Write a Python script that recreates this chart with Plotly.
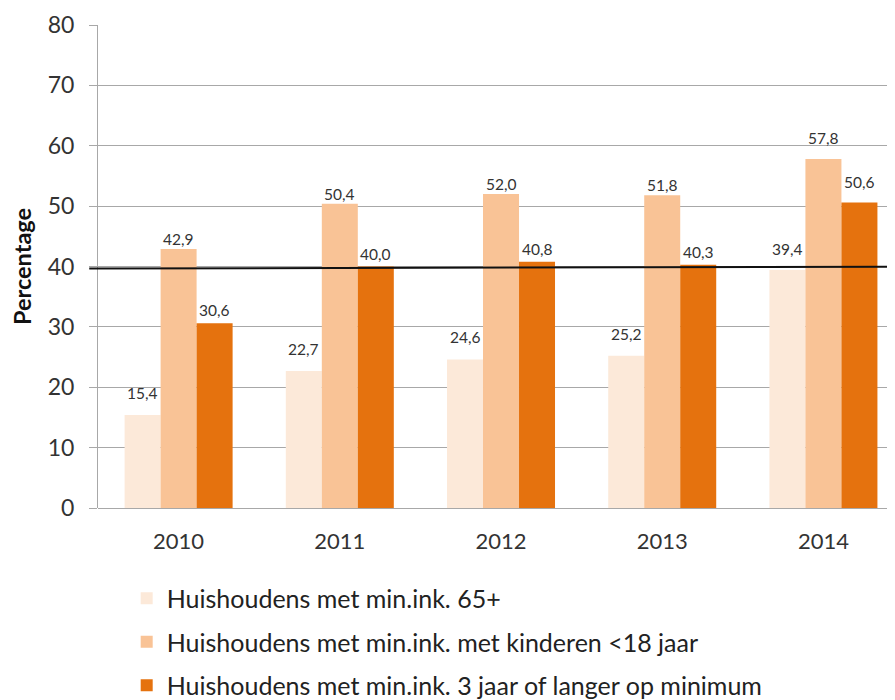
import plotly.graph_objects as go

years = ["2010", "2011", "2012", "2013", "2014"]
series_names = [
    "Huishoudens met min.ink. 65+",
    "Huishoudens met min.ink. met kinderen <18 jaar",
    "Huishoudens met min.ink. 3 jaar of langer op minimum",
]
vals_65plus = [15.4, 22.7, 24.6, 25.2, 39.4]
vals_kinderen = [42.9, 50.4, 52.0, 51.8, 57.8]
vals_3jaar = [30.6, 40.0, 40.8, 40.3, 50.6]
ref_line_start = 39.65
ref_line_end = 39.98

colors = ["#FCE9D9", "#F9C396", "#E5720E"]
series = [vals_65plus, vals_kinderen, vals_3jaar]
FONT = "Lato"

fig = go.Figure()
for i, (name, vals, col) in enumerate(zip(series_names, series, colors)):
    fig.add_trace(go.Bar(
        x=years, y=vals, name=name, marker=dict(color=col, line=dict(width=0)),
        legendgroup=f"g{i}",
    ))

# data labels
bar_w_px = 36
label_offsets = [11, -1, 2]
for i, vals in enumerate(series):
    for j, (yr, v) in enumerate(zip(years, vals)):
        ys = label_offsets[i]
        if yr == "2014":
            ys = 10
        fig.add_annotation(
            x=j, y=v, xref="x", yref="y", text=f"{v:.1f}".replace(".", ","),
            showarrow=False, xshift=(i - 1) * bar_w_px, yshift=ys, yanchor="bottom",
            font=dict(family=FONT, size=15.5, color="#333333"),
        )

fig.add_shape(
    type="line", xref="paper", yref="y", x0=-0.011, x1=1.0,
    y0=ref_line_start, y1=ref_line_end,
    line=dict(color="#111111", width=2), layer="above",
)

fig.update_layout(
    width=887, height=692,
    margin=dict(l=90, r=0, t=17, b=192, autoexpand=False),
    paper_bgcolor="white", plot_bgcolor="white",
    barmode="group", bargap=0.33, bargroupgap=0,
    font=dict(family=FONT, color="#333333"),
    showlegend=True,
    legend=dict(
        orientation="v", x=0.036, xanchor="left", y=-0.14, yanchor="top",
        font=dict(family=FONT, size=25, color="#222222"),
        tracegroupgap=8, traceorder="grouped",
    ),
    xaxis=dict(
        type="category",
        range=[-0.5, 4.444], showgrid=False, showline=False, zeroline=False,
        ticks="", tickfont=dict(family=FONT, size=22, color="#333333"),
        ticklabelstandoff=18,
    ),
    yaxis=dict(
        range=[0, 80], dtick=10, showgrid=True, gridcolor="#A8A8A8", gridwidth=1,
        zeroline=True, zerolinecolor="#A8A8A8", zerolinewidth=1,
        showline=True, linecolor="#A8A8A8", linewidth=1,
        ticks="outside", ticklen=8, tickcolor="#A8A8A8", tickwidth=1,
        tickfont=dict(family=FONT, size=23, color="#333333"),
        ticklabelstandoff=10,
        title=dict(text="<b>Percentage</b>", font=dict(family=FONT, size=23.5, color="#111111"), standoff=12),
    ),
)

fig.write_html("out.html")
